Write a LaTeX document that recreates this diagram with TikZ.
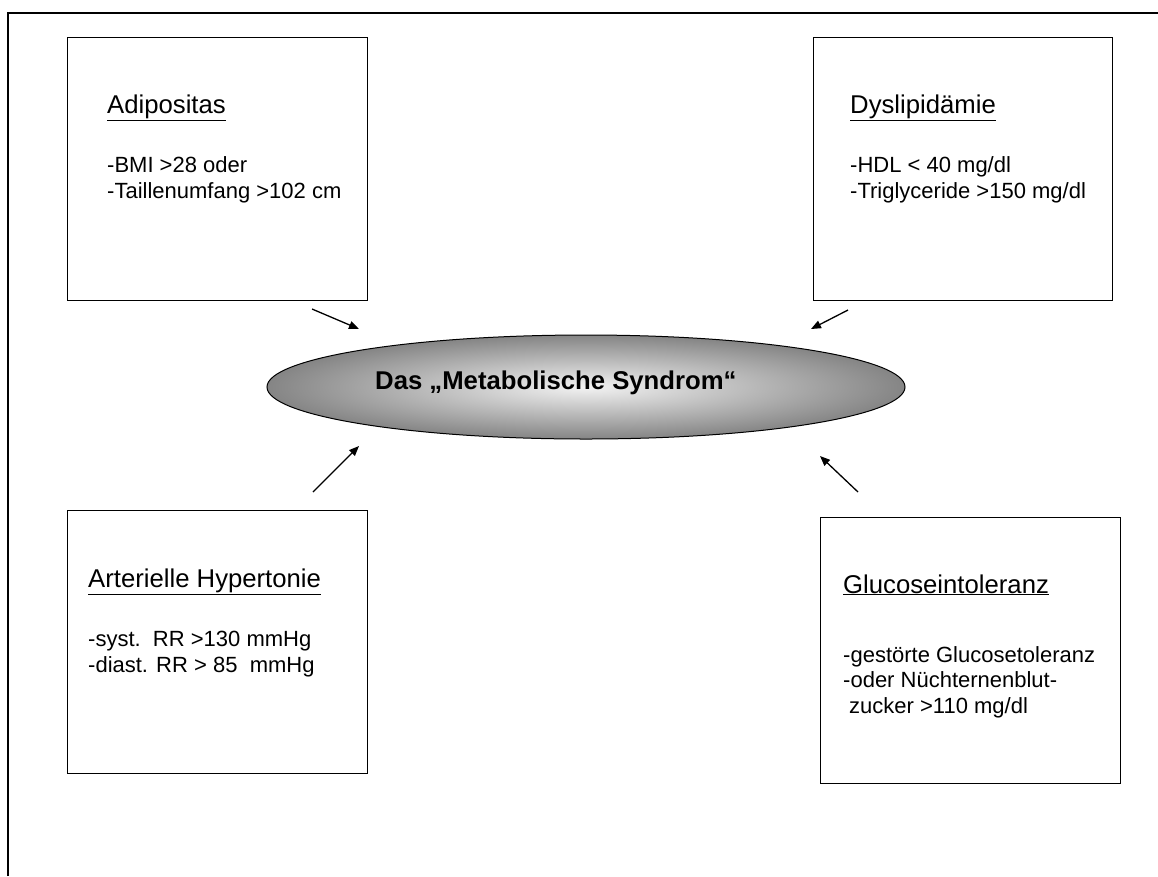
\documentclass[tikz,border=0pt]{standalone}
\usepackage{fontspec}
\setmainfont{Liberation Sans}
\usetikzlibrary{shapes.geometric,arrows.meta}
\begin{document}
\begin{tikzpicture}[x=1pt,y=-1pt,
  frame/.style={line width=2.6pt},
  infobox/.style={draw=black,line width=1.2pt,rectangle,inner sep=0pt,anchor=north west},
  heading/.style={anchor=base west,inner sep=0pt,font=\fontsize{25.7}{29}\selectfont},
  body/.style={anchor=base west,inner sep=0pt,align=left,font=\fontsize{22}{25.5}\selectfont},
  pointer/.style={line width=1.3pt,-{Triangle[length=10pt,width=8pt]}}]
\useasboundingbox (0,0) rectangle (1158,876);
% outer frame (left and top visible)
\coordinate (fbl) at (8,876);
\coordinate (ftl) at (8,13);
\coordinate (ftr) at (1158,13);
\draw[frame] (fbl) -- (ftl) -- (ftr);
% boxes
\node[infobox,minimum width=300pt,minimum height=263pt] (adi) at (67,37) {};
\node[infobox,minimum width=299pt,minimum height=263pt] (dys) at (813,37) {};
\node[infobox,minimum width=300pt,minimum height=263pt] (hyp) at (67,510) {};
\node[infobox,minimum width=300pt,minimum height=266pt] (glu) at (820,517) {};
% texts (body anchored at baseline of its last line)
\node[heading] (adih) at (107,113) {\underline{Adipositas}};
\node[body] (adib) at (107,198) {-BMI >28 oder\\-Taillenumfang >102 cm};
\node[heading] (dysh) at (850,113) {\underline{Dyslipidämie}};
\node[body] (dysb) at (850,198) {-HDL < 40 mg/dl\\-Triglyceride >150 mg/dl};
\node[heading] (hyph) at (88,587) {\underline{Arterielle Hypertonie}};
\node[body] (hypb) at (88,672) {-syst.\ \ RR >130 mmHg\\-diast. RR > 85\ \ mmHg};
\node[heading] (gluh) at (843,593) {\underline{Glucoseintoleranz}};
\node[body] (glub) at (843,713) {-gestörte Glucosetoleranz\\-oder Nüchternenblut-\\\hspace*{6pt}zucker >110 mg/dl};
% central ellipse
\node[ellipse,draw=black,line width=1pt,inner sep=0pt,minimum width=638pt,minimum height=104pt,
      inner color=black!5,outer color=black!48] (ms) at (586,387) {};
\node[anchor=base west,inner sep=0pt,font=\fontsize{25.7}{29}\selectfont\bfseries] (mst) at (375,389) {Das „Metabolische Syndrom“};
% arrows
\coordinate (a1s) at (312,309);
\coordinate (a1e) at (359,329);
\coordinate (a2s) at (848,310);
\coordinate (a2e) at (811,329);
\coordinate (a3s) at (313,492);
\coordinate (a3e) at (359,446);
\coordinate (a4s) at (858,492);
\coordinate (a4e) at (820,456);
\draw[pointer] (a1s) -- (a1e);
\draw[pointer] (a2s) -- (a2e);
\draw[pointer] (a3s) -- (a3e);
\draw[pointer] (a4s) -- (a4e);
\end{tikzpicture}
\end{document}
